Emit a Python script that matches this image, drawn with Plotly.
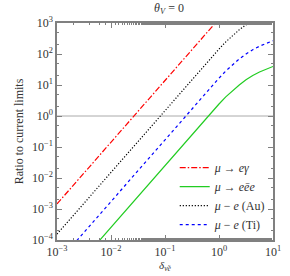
import plotly.graph_objects as go

# delta values (x) shared by all curves
delta = [0.001, 0.01, 0.1, 0.316, 0.562, 1.0, 1.334, 1.778, 2.371, 3.162, 4.217, 5.623, 7.499, 10.0]

ratio_meg = [1.46e-3, 0.146, 14.6, 146, 452, 1365, 2000, 3000, 4500, 6000, 8000, 10000, 12000, 14000]
ratio_m3e = [2.62e-6, 2.62e-4, 0.0262, 0.262, 0.809, 2.44, 4.15, 6.58, 9.95, 14.7, 20.3, 26.2, 33.0, 39.6]
ratio_au = [1.55e-4, 0.0155, 1.55, 15.5, 47.9, 144.5, 245.5, 389, 603, 871, 1202, 1600, 2000, 2500]
ratio_ti = [1.78e-5, 1.78e-3, 0.178, 1.78, 5.50, 16.6, 28.2, 44.7, 69.2, 100, 138, 178, 224, 269]

names = ["<i>μ</i> → <i>eγ</i>", "<i>μ</i> → <i>eēe</i>", "<i>μ</i> − <i>e</i> (Au)", "<i>μ</i> − <i>e</i> (Ti)"]
series = [ratio_meg, ratio_m3e, ratio_au, ratio_ti]
colors = ["#ff0000", "#22cc22", "#000000", "#0000ff"]
dashes = ["6px,2px,1.5px,2px", "solid", "1.2px,1.8px", "3px,3px"]

x_tickvals = [1e-3, 1e-2, 1e-1, 1, 10]
x_ticktext = ["10<sup>−3</sup>", "10<sup>−2</sup>", "10<sup>−1</sup>", "10<sup>0</sup>", "10<sup>1</sup>"]
y_tickvals = [1e-4, 1e-3, 1e-2, 1e-1, 1, 10, 100, 1000]
y_ticktext = ["10<sup>−4</sup>", "10<sup>−3</sup>", "10<sup>−2</sup>", "10<sup>−1</sup>",
              "10<sup>0</sup>", "10<sup>1</sup>", "10<sup>2</sup>", "10<sup>3</sup>"]

font_family = "Liberation Serif, DejaVu Serif, serif"

fig = go.Figure()
for nm, ys, c, d in zip(names, series, colors, dashes):
    fig.add_trace(go.Scatter(x=delta, y=ys, mode="lines", name=nm,
                             line=dict(color=c, dash=d, width=1.2)))

fig.add_shape(type="line", xref="paper", x0=0, x1=1, yref="y", y0=1, y1=1,
              line=dict(color="#aaaaaa", width=1), layer="below")

axis_common = dict(type="log", showgrid=False, zeroline=False, showline=True,
                   linecolor="#808080", linewidth=1.5, mirror="allticks",
                   ticks="inside", ticklen=5, tickcolor="#808080",
                   minor=dict(ticks="inside", ticklen=2.5, tickcolor="#808080"),
                   tickfont=dict(family=font_family, size=12, color="#333"))

fig.update_layout(
    width=290, height=276,
    margin=dict(l=57, r=9, t=23, b=33),
    paper_bgcolor="white", plot_bgcolor="white",
    font=dict(family=font_family, size=12, color="#333"),
    title=dict(text="<i>θ<sub>V</sub></i> = 0", x=(57 + 281) / 2 / 290, xanchor="center",
               y=0.988, yanchor="top", pad=dict(t=0),
               font=dict(size=12, family=font_family, color="#333")),
    xaxis=dict(axis_common, range=[-3, 1], tickvals=x_tickvals, ticktext=x_ticktext,
               title=dict(text="<i>δ<sub>ν̃e</sub></i>", standoff=0,
                          font=dict(size=11, family=font_family))),
    yaxis=dict(axis_common, range=[-4, 3], tickvals=y_tickvals, ticktext=y_ticktext,
               title=dict(text="Ratio to current limits", standoff=6,
                          font=dict(size=12, family=font_family))),
    legend=dict(x=0.545, y=0.40, xanchor="left", yanchor="top", itemwidth=30,
                bgcolor="rgba(0,0,0,0)", font=dict(size=12, family=font_family, color="#333"),
                tracegroupgap=0),
    showlegend=True,
)

fig.write_html("out.html", config={"displayModeBar": False},
               post_script="document.body.style.margin='0';document.body.style.padding='0';")
